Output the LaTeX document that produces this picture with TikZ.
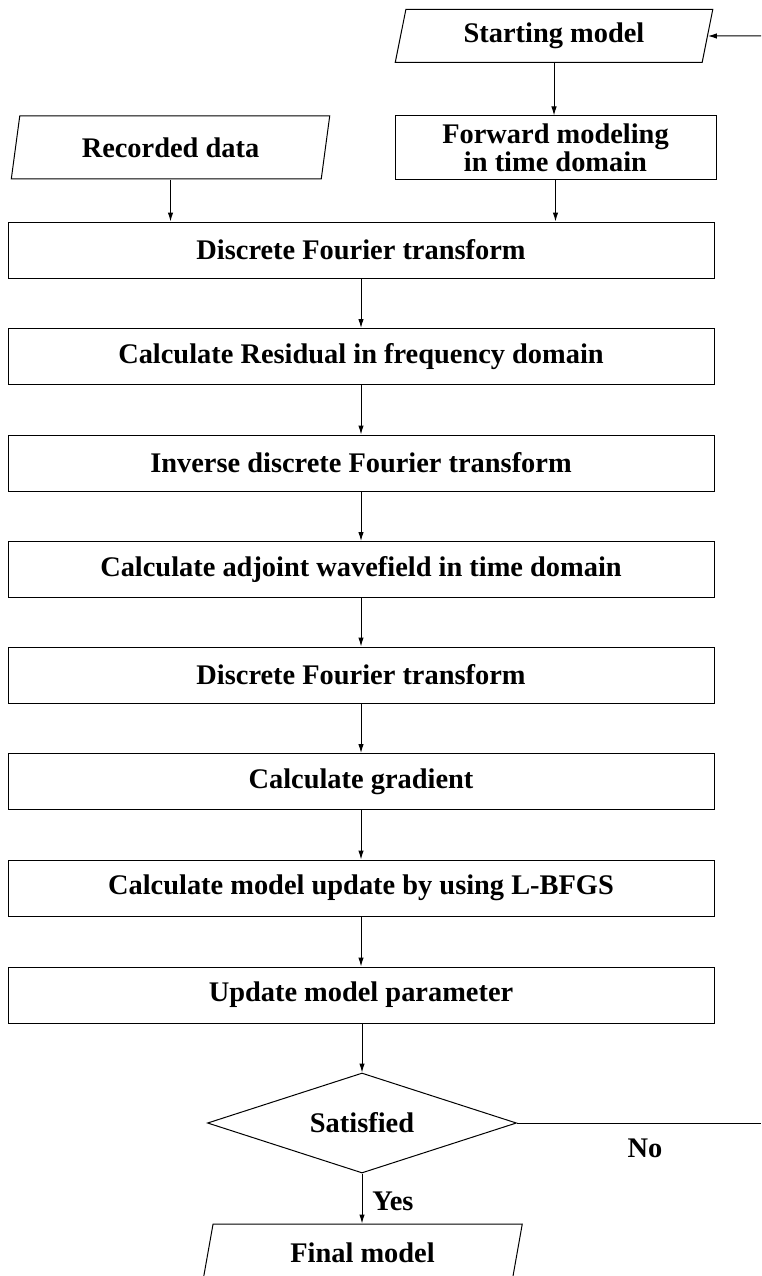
\documentclass[tikz,border=0pt]{standalone}
\usepackage{fontspec}
\setmainfont{Liberation Serif}
\usetikzlibrary{shapes.geometric,arrows.meta}
\begin{document}
\begin{tikzpicture}[x=1pt,y=-1pt,
  every node/.style={font=\fontsize{28.4}{30}\selectfont\bfseries, inner sep=0pt},
  procbox/.style={draw, line width=1pt, rectangle, minimum width=706pt, minimum height=56pt},
  iobox/.style={draw, line width=1pt, trapezium, trapezium left angle=76, trapezium right angle=104, trapezium stretches=true},
  decbox/.style={draw, line width=1pt, diamond, aspect=3, minimum width=309pt, minimum height=100pt},
  flow/.style={line width=1pt, -{Latex[length=9pt,width=5.5pt]}},
  plain/.style={line width=1pt}]
\clip (0,0) rectangle (761,1276);
\fill[white] (0,0) rectangle (761,1276);
% inputs
\node[iobox, minimum width=318pt, minimum height=53pt] (start) at (554,36) {Starting model};
\node[draw, line width=1pt, rectangle, minimum width=321pt, minimum height=64pt, align=center,
      font=\fontsize{28.4}{28}\selectfont\bfseries] (fwd) at (555.5,148) {Forward modeling\\in time domain};
\node[iobox, minimum width=319pt, minimum height=63pt] (rec) at (170.5,147.5) {Recorded data};
% main column
\node[procbox] (dft1) at (361,250) {Discrete Fourier transform};
\node[procbox] (res) at (361,356.5) {Calculate Residual in frequency domain};
\node[procbox] (idft) at (361,463) {Inverse discrete Fourier transform};
\node[procbox] (adj) at (361,569.5) {Calculate adjoint wavefield in time domain};
\node[procbox] (dft2) at (361,675) {Discrete Fourier transform};
\node[procbox] (grad) at (361,781.5) {Calculate gradient};
\node[procbox] (lbfgs) at (361,888) {Calculate model update by using L-BFGS};
\node[procbox] (upd) at (361,995) {Update model parameter};
\node[decbox] (sat) at (362,1123) {Satisfied};
\node[iobox, minimum width=320pt, minimum height=58pt] (final) at (362.5,1253) {Final model};
% labels
\node (yes) at (393,1201) {Yes};
\node (no) at (645,1148) {No};
% loop ends
\coordinate (noend) at (761,1123);
\coordinate (loopin) at (761,36);
% connectors
\draw[flow] (start.south) -- (start.south |- fwd.north);
\draw[flow] (fwd.south) -- (fwd.south |- dft1.north);
\draw[flow] (rec.south) -- (rec.south |- dft1.north);
\draw[flow] (dft1) -- (res);
\draw[flow] (res) -- (idft);
\draw[flow] (idft) -- (adj);
\draw[flow] (adj) -- (dft2);
\draw[flow] (dft2) -- (grad);
\draw[flow] (grad) -- (lbfgs);
\draw[flow] (lbfgs) -- (upd);
\draw[flow] (upd.south -| sat.north) -- (sat.north);
\draw[flow] (sat.south) -- (final.north -| sat.south);
\draw[plain] (sat.east) -- (noend);
\draw[flow] (loopin) -- (start);
\end{tikzpicture}
\end{document}
